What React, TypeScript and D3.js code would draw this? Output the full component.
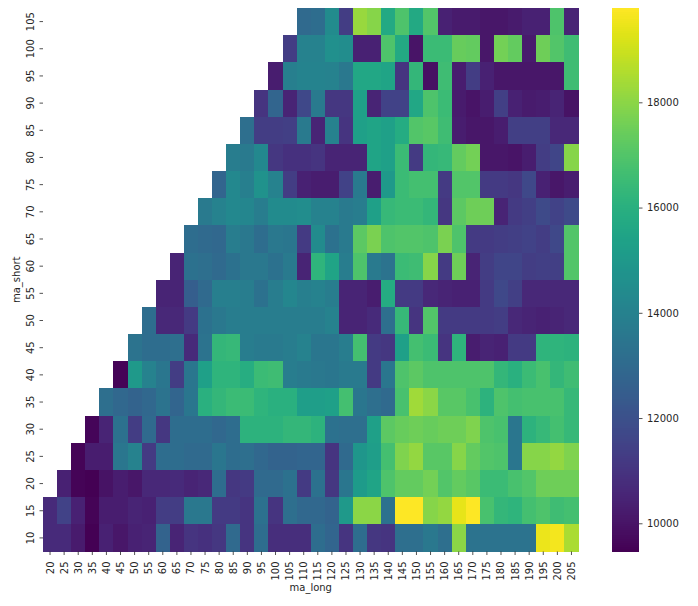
import React, { useRef, useEffect } from 'react';
import * as d3 from 'd3';

const maLong = d3.range(38).map(i => 20 + i * 5);
const maShort = [105, 100, 95, 90, 85, 80, 75, 70, 65, 60, 55, 50, 45, 40, 35, 30, 25, 20, 15, 10];
const barTicks = [10000, 12000, 14000, 16000, 18000];

// each row runs up to ma_long 205, shorter rows just start later
const s105 = [13000, 13100, 14400, 11300, 18200, 17900, 15700, 16900, 15700, 17000, 10400, 10200, 10200, 10100, 10100, 10200, 10400, 10400, 16900, 10500];
const s100 = [11300, 14000, 14000, 14600, 14500, 10400, 10400, 16900, 15700, 10000, 16500, 16500, 17400, 17300, 10100, 17600, 17300, 10200, 17500, 17000, 16600];
const s95 = [10300, 13900, 14100, 14100, 14000, 13600, 15600, 15600, 15500, 11000, 16300, 9900, 16600, 10300, 11300, 10400, 10100, 10100, 10100, 10100, 10100, 16600];
const s90 = [11000, 12800, 10500, 11700, 13700, 11100, 11100, 15300, 10500, 11500, 11500, 15600, 16900, 16500, 10200, 10000, 10300, 11400, 10400, 10200, 10300, 10500, 9950];
const s85 = [13200, 11300, 11300, 11400, 13700, 10500, 14000, 11000, 15300, 15500, 15300, 15800, 17000, 17100, 16600, 10300, 10100, 10100, 10300, 11400, 11400, 11400, 10600, 10600];
const s80 = [13800, 13700, 14300, 11100, 10900, 10900, 11000, 10500, 10500, 10500, 15500, 15300, 16500, 11200, 16300, 16400, 17300, 17600, 10100, 10100, 10000, 10300, 11300, 11600, 17900];
const s75 = [12800, 14300, 13900, 14700, 14000, 11300, 10400, 10300, 10300, 11500, 13700, 10300, 15000, 16500, 16700, 16700, 11200, 17000, 17000, 11200, 11200, 11100, 11700, 10400, 10100, 10300];
const s70 = [13700, 14000, 14300, 14200, 13800, 14400, 14400, 14500, 14000, 14000, 13700, 13800, 15300, 16400, 16500, 16500, 16300, 11100, 17200, 17500, 17500, 10500, 11200, 11400, 11800, 11500, 11800];
const s65 = [13100, 13000, 12900, 13800, 13600, 13100, 13600, 13500, 11200, 14400, 13300, 13700, 17200, 17700, 16900, 17000, 17000, 16900, 17700, 16900, 11200, 11200, 11300, 11400, 11500, 11300, 11700, 17000];
const s60 = [10500, 13300, 13200, 13000, 13300, 13600, 13600, 13300, 13700, 10500, 16200, 15500, 13800, 16900, 13700, 13400, 16500, 16600, 17900, 11200, 17500, 10500, 11300, 11600, 11600, 11300, 11400, 11400, 17000];
const s55 = [10500, 10500, 12500, 13000, 13900, 13900, 13800, 13300, 13800, 14200, 13900, 14000, 13800, 10500, 10500, 10300, 15800, 11200, 11200, 10600, 10500, 10400, 10400, 11200, 11700, 11400, 10600, 10600, 10600, 10600];
const s50 = [13100, 10600, 10600, 11200, 13300, 13600, 13800, 13800, 13800, 13800, 13800, 13800, 13800, 14000, 10500, 10500, 10700, 13200, 16400, 11000, 17000, 11200, 11200, 11200, 11200, 11300, 10600, 10500, 10400, 10500, 10600];
const s45 = [13400, 13100, 13100, 13200, 10700, 13400, 16300, 16400, 13800, 13700, 13700, 13800, 14000, 13500, 13500, 13800, 16700, 11200, 11100, 15300, 16700, 16500, 11000, 16200, 10300, 10500, 10400, 11200, 11200, 16200, 16200, 16100];
const s40 = [9550, 15000, 14000, 13500, 11300, 13500, 15300, 16200, 16200, 15900, 16500, 16600, 13800, 13700, 13600, 13500, 13700, 13700, 11200, 13500, 16900, 17200, 16900, 16900, 16900, 16900, 16900, 16300, 16000, 16500, 16800, 16300, 16600];
const s35 = [13200, 12900, 12700, 12900, 13400, 12800, 13500, 16000, 16300, 16500, 16500, 16200, 16000, 16000, 15200, 15200, 15300, 16700, 13500, 13200, 13000, 16800, 18300, 18000, 17100, 17100, 16800, 16100, 16900, 16700, 16800, 16800, 16800, 16400];
const s30 = [9600, 10500, 13300, 11300, 13000, 11100, 13100, 13100, 13100, 12900, 13100, 16100, 16100, 16100, 16300, 16300, 16100, 13300, 13200, 13200, 15300, 17200, 17400, 17500, 17400, 17500, 17500, 17800, 16900, 16800, 13500, 16100, 16400, 16700, 16400];
const s25 = [9550, 10300, 10300, 13500, 14000, 11200, 13100, 13100, 13000, 13000, 13500, 13100, 13200, 12900, 12700, 12700, 12800, 12800, 11000, 13000, 14900, 15200, 16700, 17800, 18100, 17100, 17100, 17900, 17300, 17000, 16900, 13500, 17900, 17900, 18100, 17800];
const s20 = [10400, 9550, 9480, 9950, 10300, 10100, 10600, 10600, 10700, 10500, 10600, 13100, 11100, 11200, 13000, 13000, 13300, 11200, 13300, 11100, 13500, 15100, 15500, 16900, 17300, 17300, 17600, 17000, 17300, 17100, 16500, 16500, 16800, 17000, 17500, 17500, 17500];
const s15 = [10700, 11500, 10400, 9550, 10300, 10300, 10500, 10400, 11300, 11300, 13600, 13600, 11200, 11200, 11000, 13300, 11000, 13200, 12900, 12900, 12700, 15000, 18000, 18000, 13300, 19800, 19800, 17900, 18100, 19400, 19800, 16800, 16300, 16200, 16700, 16900, 16600, 16700];
const s10 = [10700, 10700, 10200, 9470, 10400, 10100, 10400, 10500, 12700, 10500, 11000, 10900, 11100, 13000, 11000, 13100, 10800, 10800, 10800, 13100, 12800, 11000, 13100, 11100, 11000, 13200, 13200, 13600, 13200, 18000, 13400, 13400, 13400, 13400, 13400, 19500, 19600, 18500];

const rows = [s105, s100, s95, s90, s85, s80, s75, s70, s65, s60, s55, s50, s45, s40, s35, s30, s25, s20, s15, s10];

const width = 698;
const height = 606;
const margin = { top: 8, left: 43, right: 578.5, bottom: 551.5 };
const bar = { left: 612, right: 639 };
const vmin = 9464;
const vmax = 19792;
const textColor = '#262626';

const App: React.FC = () => {
  const svgRef = useRef<SVGSVGElement>(null);

  useEffect(() => {
    const svg = d3.select(svgRef.current);
    svg.selectAll('*').remove();

    const x = d3.scaleBand<number>().domain(maLong).range([margin.left, margin.right]);
    const y = d3.scaleBand<number>().domain(maShort).range([margin.top, margin.bottom]);
    const color = d3.scaleSequential(d3.interpolateViridis).domain([vmin, vmax]);

    const cells = rows.flatMap((row, r) =>
      row.map((value, i) => ({
        short: maShort[r],
        long: maLong[maLong.length - row.length + i],
        value,
      }))
    );

    svg.append('g')
      .attr('shape-rendering', 'crispEdges')
      .selectAll('rect')
      .data(cells)
      .join('rect')
      .attr('x', d => x(d.long)!)
      .attr('y', d => y(d.short)!)
      .attr('width', x.bandwidth())
      .attr('height', y.bandwidth())
      .attr('fill', d => color(d.value));

    // X axis
    const xAxis = svg.append('g')
      .attr('transform', `translate(0,${margin.bottom})`)
      .call(d3.axisBottom(x).tickSize(3.5).tickPadding(3.5));
    xAxis.select('.domain').remove();
    xAxis.selectAll('text')
      .attr('transform', 'rotate(-90)')
      .attr('x', -10)
      .attr('y', 0)
      .attr('dy', '0.35em')
      .style('text-anchor', 'end');

    // Y axis
    const yAxis = svg.append('g')
      .attr('transform', `translate(${margin.left},0)`)
      .call(d3.axisLeft(y).tickSize(3.5).tickPadding(3.5));
    yAxis.select('.domain').remove();
    yAxis.selectAll('text')
      .attr('transform', 'rotate(-90)')
      .attr('x', 0)
      .attr('y', -9)
      .attr('dy', '0')
      .style('text-anchor', 'middle');

    // Colorbar
    const barScale = d3.scaleLinear().domain([vmin, vmax]).range([margin.bottom, margin.top]);
    const levels = d3.range(256).map(i => vmin + ((vmax - vmin) * i) / 255);
    const levelHeight = (margin.bottom - margin.top) / 256;
    svg.append('g')
      .attr('shape-rendering', 'crispEdges')
      .selectAll('rect')
      .data(levels)
      .join('rect')
      .attr('x', bar.left)
      .attr('y', (_, i) => margin.bottom - (i + 1) * levelHeight)
      .attr('width', bar.right - bar.left)
      .attr('height', levelHeight)
      .attr('fill', d => color(d));

    const barAxis = svg.append('g')
      .attr('transform', `translate(${bar.right},0)`)
      .call(d3.axisRight(barScale).tickValues(barTicks).tickFormat(d3.format('d')).tickSize(3.5).tickPadding(4.5));
    barAxis.select('.domain').remove();

    svg.selectAll('.tick line').attr('stroke', textColor).attr('stroke-width', 0.8);
    svg.selectAll('.tick text')
      .attr('fill', textColor)
      .style('font-family', '"DejaVu Sans"')
      .style('font-size', '10px');

    svg.append('text')
      .attr('x', (margin.left + margin.right) / 2)
      .attr('y', 591)
      .attr('text-anchor', 'middle')
      .attr('fill', textColor)
      .style('font-family', '"DejaVu Sans"')
      .style('font-size', '10px')
      .text('ma_long');

    svg.append('text')
      .attr('transform', `translate(20,${(margin.top + margin.bottom) / 2}) rotate(-90)`)
      .attr('text-anchor', 'middle')
      .attr('fill', textColor)
      .style('font-family', '"DejaVu Sans"')
      .style('font-size', '10px')
      .text('ma_short');
  }, []);

  return (
    <svg
      ref={svgRef}
      width={width}
      height={height}
      style={{ position: 'absolute', left: 0, top: 0, background: '#fff' }}
    />
  );
};

export default App;
